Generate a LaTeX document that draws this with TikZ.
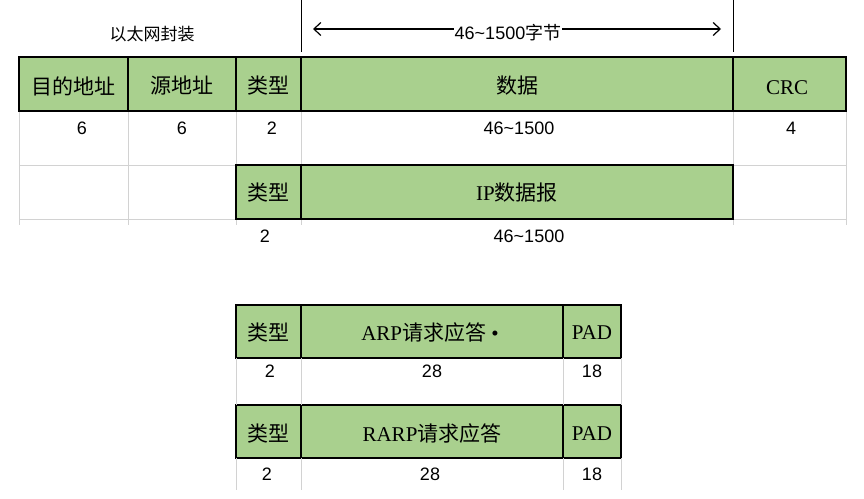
\documentclass[tikz,border=0pt]{standalone}
\usepackage{fontspec}
\usetikzlibrary{arrows.meta}
\setmainfont{Liberation Serif}
\newfontfamily\cjk{Noto Sans CJK SC}
\newfontfamily\numf{Liberation Sans}
\begin{document}
\begin{tikzpicture}[x=1pt,y=-1pt,
  cell/.style={draw=black,line width=2.4pt,fill=bargreen},
  lbl/.style={font=\fontsize{21}{24}\selectfont},
  num/.style={font=\numf\fontsize{18}{20}\selectfont},
  grid/.style={draw=gray!35,line width=0.6pt}]
\definecolor{bargreen}{HTML}{A9D08E}
\useasboundingbox (0,0) rectangle (864,498);
% grid
\foreach \x in {19,128,236,301,733,846} \draw[grid] (\x,57) -- (\x,225);
\foreach \y in {57,111,165,219} \draw[grid] (19,\y) -- (846,\y);
% top bar
\draw[cell] (19,57) rectangle (846,111);
\foreach \x in {128,236,301,733} \draw[line width=2.4pt] (\x,57) -- (\x,111);
\node[lbl] (a1) at (73.5,86) {\cjk 目的地址};
\node[lbl] (a2) at (182,86) {\cjk 源地址};
\node[lbl] (a3) at (268.5,86) {\cjk 类型};
\node[lbl] (a4) at (517,86) {\cjk 数据};
\node[lbl] (a5) at (787,88) {CRC};
\node[num] (n1) at (82,128) {6};
\node[num] (n2) at (182,128) {6};
\node[num] (n3) at (272,128) {2};
\node[num] (n4) at (519,128) {46\textasciitilde1500};
\node[num] (n5) at (791,128) {4};
% header
\node[font=\cjk\fontsize{17}{19}\selectfont] (h) at (152,34) {以太网封装};
\coordinate (l1) at (301,0); \coordinate (l1b) at (301,52);
\coordinate (l2) at (733,0); \coordinate (l2b) at (733,52);
\draw[line width=0.9pt] (l1) -- (l1b); \draw[line width=0.9pt] (l2) -- (l2b);
\coordinate (al) at (313,29); \coordinate (ar) at (721,29);
\draw[line width=1.2pt,<->,>={Straight Barb[length=7pt,width=13pt]}] (al) -- (ar);
\node[num,fill=white,inner sep=1pt] (hl) at (508,33) {46\textasciitilde1500{\cjk 字节}};
% IP row
\draw[cell] (236,165) rectangle (733,219);
\draw[line width=2.4pt] (301,165) -- (301,219);
\node[lbl] (b1) at (268.5,193) {\cjk 类型};
\node[lbl] (b2) at (517,193) {IP{\cjk 数据报}};
\node[num] (m1) at (265,236) {2};
\node[num] (m2) at (529,236) {46\textasciitilde1500};
% ARP
\draw[cell] (236,305) rectangle (621,358);
\foreach \x in {301,563} \draw[line width=2.4pt] (\x,305) -- (\x,358);
\node[lbl] (c1) at (268.5,333) {\cjk 类型};
\node[lbl] (c2) at (430,333) {ARP{\cjk 请求应答} •};
\node[lbl] (c3) at (592,333) {PAD};
\node[num] (k1) at (270,371) {2};
\node[num] (k2) at (432,371) {28};
\node[num] (k3) at (592,371) {18};
% RARP
\draw[cell] (236,405) rectangle (621,458);
\foreach \x in {301,563} \draw[line width=2.4pt] (\x,405) -- (\x,458);
\node[lbl] (d1) at (268.5,434) {\cjk 类型};
\node[lbl] (d2) at (432,434) {RARP{\cjk 请求应答}};
\node[lbl] (d3) at (592,434) {PAD};
\node[num] (j1) at (267,474) {2};
\node[num] (j2) at (430,474) {28};
\node[num] (j3) at (592,474) {18};
\foreach \x in {236,301,563,621} \draw[grid] (\x,358) -- (\x,405) (\x,458) -- (\x,490);
\end{tikzpicture}
\end{document}
